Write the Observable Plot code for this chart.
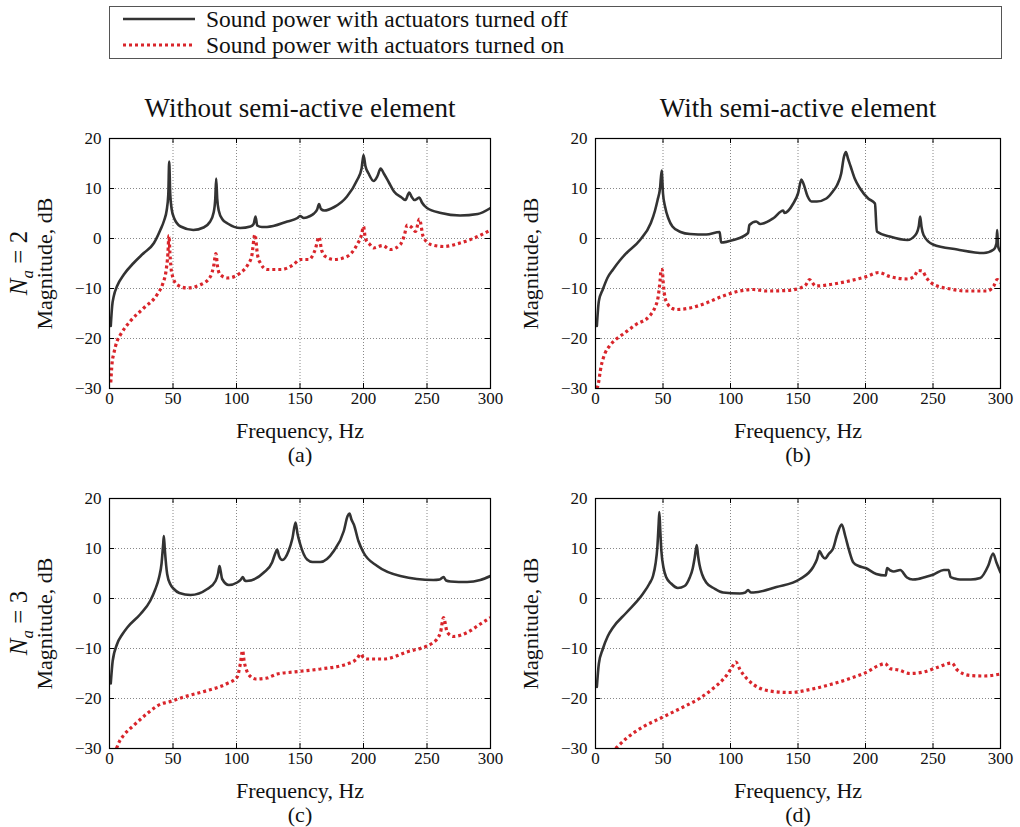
<!DOCTYPE html>
<html><head><meta charset="utf-8">
<script src="https://cdn.jsdelivr.net/npm/d3@7"></script>
<script src="https://cdn.jsdelivr.net/npm/@observablehq/plot@0.6"></script>
<style>
body{margin:0;width:1020px;height:827px;position:relative;overflow:hidden;background:#fff;font-family:"Liberation Serif",serif;color:#111;}
#legend{position:absolute;left:109px;top:6px;width:893px;height:53px;border:1px solid #555;box-sizing:border-box;}
.lrow{position:absolute;left:13px;height:24px;display:flex;align-items:center;font-size:23.5px;white-space:nowrap;}
.lrow svg{margin-right:11px;}
.coltitle{position:absolute;font-size:27px;transform:translate(-50%,-50%);white-space:nowrap;}
.rowlab{position:absolute;font-size:25px;transform:translate(-50%,-50%) rotate(-90deg);white-space:nowrap;}
.panel{position:absolute;}
</style></head>
<body>
<div id="legend">
  <div class="lrow" style="top:0px"><svg width="72" height="10"><line x1="0" x2="72" y1="5" y2="5" stroke="#333" stroke-width="2.6"/></svg><span>Sound power with actuators turned off</span></div>
  <div class="lrow" style="top:26px"><svg width="72" height="10"><line x1="0" x2="72" y1="5" y2="5" stroke="#d9252b" stroke-width="3.2" stroke-dasharray="3,3"/></svg><span>Sound power with actuators turned on</span></div>
</div>
<div class="coltitle" style="left:300px;top:108px">Without semi-active element</div>
<div class="coltitle" style="left:798px;top:108px">With semi-active element</div>
<div class="rowlab" style="left:21px;top:263px"><i>N</i><sub style="font-size:17px"><i>a</i></sub> = 2</div>
<div class="rowlab" style="left:21px;top:623px"><i>N</i><sub style="font-size:17px"><i>a</i></sub> = 3</div>
<div id="pa" class="panel" style="left:0px;top:100px"></div>
<div id="pb" class="panel" style="left:510px;top:100px"></div>
<div id="pc" class="panel" style="left:0px;top:460px"></div>
<div id="pd" class="panel" style="left:510px;top:460px"></div>
<script>
const xTicks = [0, 50, 100, 150, 200, 250, 300];
const yTicks = [-30, -20, -10, 0, 10, 20];
const xLabel = "Frequency, Hz";
const yLabel = "Magnitude, dB";

// Panel (a): without semi-active element, Na = 2  [frequency Hz, magnitude dB]
const offA = [[1,-17.5],[2.1,-13.5],[3.4,-11.5],[6,-9.5],[11.3,-7.2],[19,-4.9],[27,-2.9],[35,-0.9],[40,1.7],[43,3.6],[45,5.6],[46.3,8.8],[47,15.4],[47.8,9],[49,5.8],[51,4],[56,2.4],[66,1.7],[74,2.2],[79,3.3],[82,5.2],[83.3,8],[84,12],[84.8,8],[86,5.6],[89,3.8],[93,3],[103,2.1],[111,2.4],[113.5,2.9],[115,4.4],[116.3,2.6],[120,2.3],[124,2.3],[140,3.4],[148,4.1],[150,4.5],[153,4.1],[158,4.5],[161,5],[163.5,5.8],[165,6.9],[166.5,5.9],[169,5.6],[177,6.3],[187,8.4],[195,11.7],[198.5,14],[200,16.7],[201.5,14.5],[204,13],[208,11.5],[211,12.5],[213.5,14],[216,13],[220,11.2],[224,9.4],[230,8.2],[233,7.7],[236,9.2],[238,8.3],[240,7.7],[242,7.9],[244,8.2],[246,7.2],[250,6.1],[261,5.1],[276,4.6],[290,4.9],[300,6.1]];
const onA = [[1,-28.8],[2,-25],[3.4,-23],[6,-20.5],[8.7,-19.2],[16.5,-16.5],[27,-13.9],[37.5,-11.2],[42,-9],[44.5,-6.5],[46,-3],[46.8,0.6],[47.6,-3],[49,-6.9],[53,-9.2],[61,-9.9],[72,-9.2],[79.5,-7.6],[82,-5.5],[83.8,-3],[85,-5.5],[87,-7.2],[93,-7.9],[103,-6.9],[109,-5.2],[112,-3.5],[114.5,0.8],[116.5,-3.2],[119,-5],[124,-6.2],[135,-6.2],[145,-5.2],[150,-4.2],[157,-4.2],[162,-2.2],[165,0.3],[167,-2.3],[170,-3.6],[177,-4.2],[187,-3.6],[195,-1.2],[198.5,0.8],[200,2.4],[201.5,0],[205,-1.2],[208,-1.9],[215,-1.4],[221,-2.2],[229,-1.2],[232,0.5],[234.5,2.7],[238,2.2],[241,1.4],[244,3.9],[247,0.4],[253,-1.2],[263,-1.6],[276,-0.9],[290,0.4],[300,1.7]];

// Panel (b): with semi-active element, Na = 2
const offB = [[1,-17.5],[2.5,-12.5],[5.4,-10.2],[9,-7.8],[13,-6.2],[18,-4.4],[23,-2.9],[33,-0.3],[41,3.1],[44,5.5],[46,7.7],[47.8,10],[49,13.6],[50,9],[51.5,6.4],[54,4],[57,2.4],[63,1.3],[70,0.9],[82,0.8],[92,1.3],[93,-0.8],[102,-0.3],[113,1.1],[114,2.7],[119,3.4],[122,2.9],[132,4.1],[139,5.6],[140,5.1],[146.5,7],[150,9],[152.5,11.8],[154,11],[157,8.5],[160,7.4],[164,7.4],[171,8],[176,9.5],[179,10.7],[182,13],[184,16.3],[185.5,17.3],[187,16],[189,14.4],[192,12],[196,10],[202,8],[207,7],[208.4,1.4],[218,0.4],[231,-0.3],[237,0.7],[239.5,2.5],[240.5,4.4],[241.5,2.3],[243,0.7],[250,-1.2],[268,-2.2],[287.6,-2.9],[295,-2.2],[297,-1],[297.5,1.7],[298.2,-1.5],[299,-2.2],[300,-2.6]];
const onB = [[1,-30],[1.7,-29.5],[4.2,-25.5],[7,-23],[10.4,-21.5],[15,-20.2],[20,-19.2],[30,-17.2],[40,-15.5],[44,-13.8],[46.5,-11.5],[47.8,-8.5],[48.6,-6.2],[49.4,-6.2],[50.2,-9],[51.5,-11.8],[53.7,-13.2],[57,-14],[60,-14.2],[70,-13.9],[82,-12.9],[94.5,-11.5],[107,-10.5],[117,-10.2],[127,-10.5],[141.6,-10.4],[151.5,-9.9],[156,-9.2],[158.5,-8.2],[160,-8.6],[163,-9.5],[174,-9.2],[186,-8.6],[201,-7.6],[209.7,-6.8],[218,-7.6],[231,-8.1],[236,-7.6],[239,-6.4],[242,-6.5],[245,-7.8],[250.5,-9.2],[263,-10.1],[275,-10.5],[290,-10.5],[295,-9.5],[297.5,-8.2],[300,-8.9]];

// Panel (c): without semi-active element, Na = 3
const offC = [[1,-17],[2.5,-12.5],[6,-9.1],[10,-7.2],[14,-5.8],[24.4,-3.1],[32,-0.5],[36,1.8],[39,4.2],[41,7],[42.3,11],[42.8,12.5],[43.5,10],[45.4,4.9],[48,2.8],[50.7,1.9],[55,1.1],[63.8,0.7],[77,1.9],[83.5,3.5],[85.5,5],[86.6,6.5],[87.5,5.5],[88.7,3.9],[94,2.7],[100.5,3.2],[103.5,3.8],[105,4.3],[106.5,3.6],[108,3.5],[121.5,5.2],[128,7.2],[130.5,9],[132,9.8],[133.5,8.5],[136,7.7],[141,9.5],[144,12],[146.5,15.2],[148,13],[150,11],[155.6,7.8],[160,7.3],[166,7.3],[176.6,9.5],[184.5,13.5],[187.5,16.5],[189,17],[190.5,15.8],[192.4,14.8],[196,11.5],[200,9.2],[210.8,6.5],[229,4.5],[255,3.7],[260,3.8],[263,4.3],[265,3.6],[268.5,3.4],[281.6,3.3],[292,3.7],[300,4.5]];
const onC = [[5.5,-30],[8,-28.5],[11.3,-27.3],[19,-25.4],[29.7,-23],[41.5,-21],[45,-20.8],[58.5,-19.7],[77,-18.4],[92.7,-17],[100.5,-15.7],[103,-13.1],[104.8,-10.4],[106,-12.5],[108,-14.4],[111,-15.6],[115,-16.1],[124,-15.9],[132,-15.1],[145,-14.7],[166,-14.1],[187,-13.1],[195,-12],[197.6,-11.1],[200,-11.8],[203,-12.1],[216,-12.1],[234,-10.7],[255,-8.8],[260.6,-6.8],[263,-3.8],[266,-6.8],[271,-7.6],[281.6,-6.8],[292,-5.1],[300,-3.8]];

// Panel (d): with semi-active element, Na = 3
const offD = [[1,-17.7],[2.5,-13],[5.4,-10.1],[9,-7.6],[13,-5.8],[23,-2.8],[35,0.9],[40,3],[42.6,4.5],[44.5,7],[45.8,10.2],[46.8,15],[47.3,17.3],[47.9,14],[48.8,9.5],[50.5,6],[52.5,4.2],[56,3],[61,2.1],[66,2.5],[69.8,4.2],[72,6],[73.5,8.2],[75,10.7],[76,8.5],[77,6.8],[79,4.8],[82,3.2],[88,2],[94.5,1.2],[107,1],[111,1.2],[113,1.7],[115,1.2],[117,1.2],[134,2.3],[151.5,3.9],[161,6.2],[164,7.8],[166,9.5],[168,8.5],[170,8],[173,9],[176,10],[179,12.8],[182.4,14.8],[185,12.5],[188,9.5],[191,7.2],[195,6.5],[200,6.1],[208,4.9],[215,4.6],[216,6.1],[218.5,5.6],[221,5.4],[225.7,5.7],[230.7,4.2],[235,3.8],[239,3.9],[243,4.2],[250.5,4.8],[258,5.7],[261.6,5.7],[263,4.3],[266,4],[270,3.8],[278,3.8],[285,4.1],[291,6.6],[294.5,9],[297,7.2],[300,5.2]];
const onD = [[14.9,-30],[22.8,-28],[35,-25.7],[50,-23.7],[65,-21.7],[77,-20],[87,-18],[97,-15.4],[101,-13.8],[104,-12.7],[107,-14.2],[112,-16],[117,-17.2],[129,-18.5],[144,-18.8],[159,-18.2],[174,-17.2],[188.6,-16],[201,-14.7],[209.7,-13.4],[214.6,-13],[218,-14],[224.5,-14.3],[233,-15],[243,-14.7],[253,-13.8],[264,-12.9],[268,-14.3],[277.7,-15.4],[287.6,-15.5],[300,-15.1]];

const xMin = xTicks[0], xMax = xTicks[xTicks.length - 1];
const yMin = yTicks[0], yMax = yTicks[yTicks.length - 1];

function panel(id, off, on, tag, height, mL, mR) {
  const chart = Plot.plot({
    width: 510, height,
    marginLeft: mL, marginRight: mR, marginTop: 38, marginBottom: height - 38 - 250,
    x: {domain: [xMin, xMax]},
    y: {domain: [yMin, yMax]},
    style: {fontFamily: "Liberation Serif, serif", fontSize: "16px", color: "#111", background: "transparent", overflow: "visible"},
    marks: [
      Plot.gridX(xTicks, {stroke: "#888", strokeOpacity: 1, strokeDasharray: "1,2", strokeWidth: 1}),
      Plot.gridY(yTicks, {stroke: "#888", strokeOpacity: 1, strokeDasharray: "1,2", strokeWidth: 1}),
      Plot.line(on, {x: d => d[0], y: d => d[1], stroke: "#d9252b", strokeWidth: 3.2, strokeDasharray: "3,3", strokeLinecap: "butt", strokeLinejoin: "miter", curve: "monotone-x", clip: true}),
      Plot.line(off, {x: d => d[0], y: d => d[1], stroke: "#333", strokeWidth: 2.6, curve: "monotone-x", clip: true}),
      Plot.ruleX(xTicks, {x: d => d, y1: yMin, y2: yMin + 1, stroke: "#000"}),
      Plot.ruleX(xTicks, {x: d => d, y1: yMax, y2: yMax - 1, stroke: "#000"}),
      Plot.ruleY(yTicks, {y: d => d, x1: xMin, x2: xMin + 4, stroke: "#000"}),
      Plot.ruleY(yTicks, {y: d => d, x1: xMax - 4, x2: xMax, stroke: "#000"}),
      Plot.frame({stroke: "#000", strokeWidth: 1.2}),
      Plot.axisX(xTicks, {tickSize: 0, tickPadding: 3, label: null, fontSize: 17}),
      Plot.axisY(yTicks, {tickSize: 0, tickPadding: 8, label: null, fontSize: 17}),
      Plot.text([xLabel], {text: d => d, frameAnchor: "bottom", lineAnchor: "middle", dy: 42, fontSize: 22}),
      Plot.text([tag], {text: d => d, frameAnchor: "bottom", lineAnchor: "middle", dy: 66, fontSize: 22}),
      Plot.text([yLabel], {text: d => d, frameAnchor: "left", textAnchor: "middle", lineAnchor: "middle", rotate: -90, dx: -65, fontSize: 22})
    ]
  });
  document.getElementById(id).appendChild(chart);
}

panel("pa", offA, onA, "(a)", 380, 109, 20);
panel("pb", offB, onB, "(b)", 380, 85, 20);
panel("pc", offC, onC, "(c)", 365, 109, 20);
panel("pd", offD, onD, "(d)", 365, 85, 20);
</script>
</body></html>
